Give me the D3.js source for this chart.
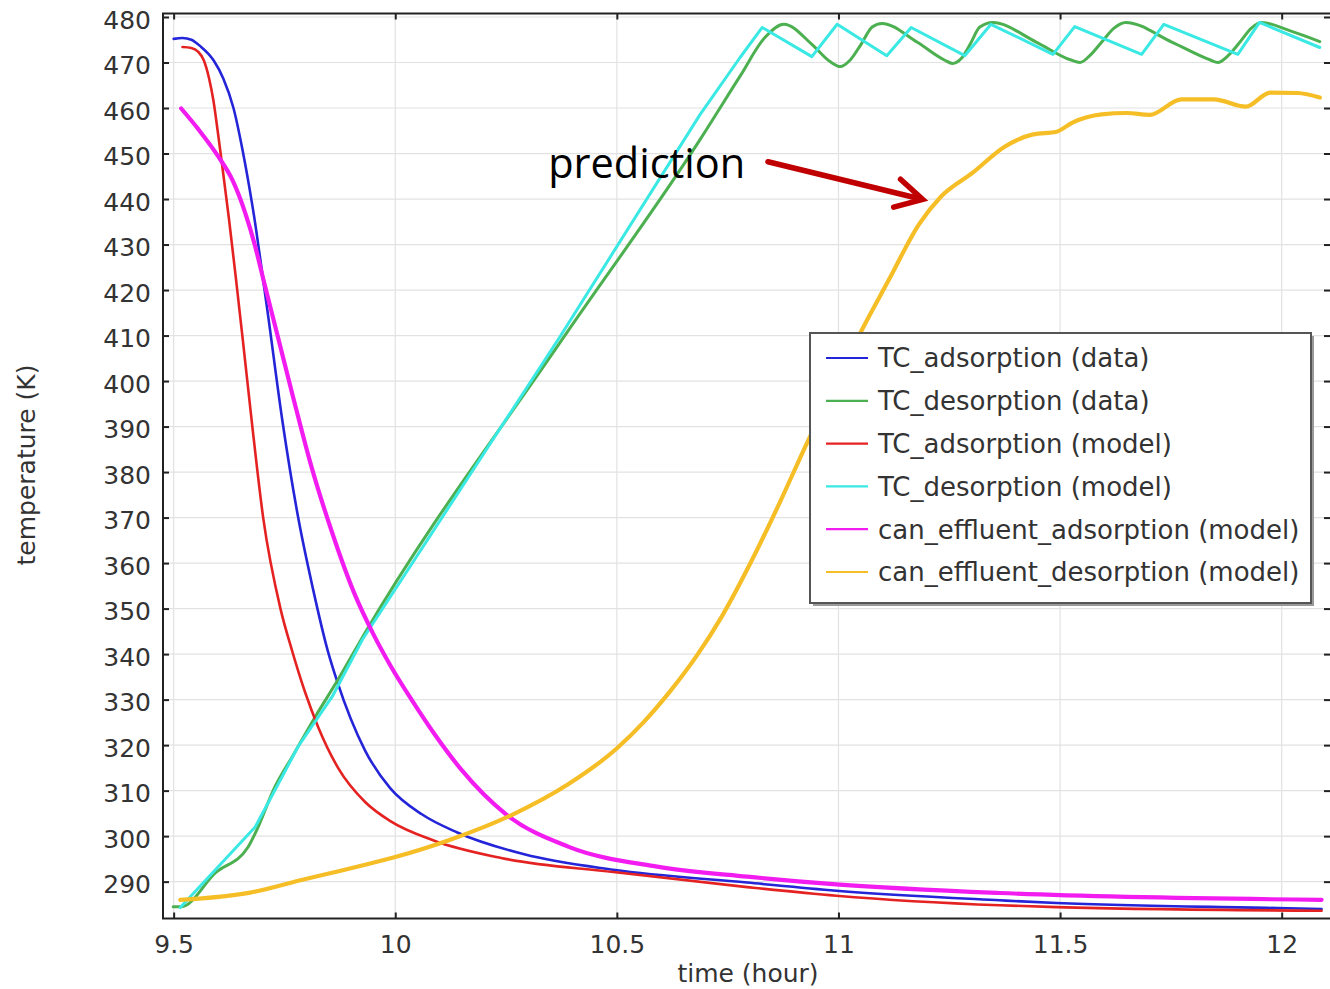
<!DOCTYPE html>
<html><head><meta charset="utf-8">
<script src="https://cdn.jsdelivr.net/npm/d3@7"></script>
<style>body{margin:0;background:#fff}svg{display:block}</style>
</head><body>
<svg id="chart" width="1330" height="989"></svg>
<script>
// ---------------- data ----------------
const xTicks = [9.5, 10, 10.5, 11, 11.5, 12];
const xTickLabels = ["9.5", "10", "10.5", "11", "11.5", "12"];
const yTicks = [290, 300, 310, 320, 330, 340, 350, 360, 370, 380, 390, 400, 410, 420, 430, 440, 450, 460, 470, 480];

const seriesNames = ["TC_adsorption (data)", "TC_desorption (data)", "TC_adsorption (model)",
  "TC_desorption (model)", "can_effluent_adsorption (model)", "can_effluent_desorption (model)"];
const seriesColors = ["#2424d8", "#4cb050", "#e52222", "#3ae8e4", "#f21cf0", "#f6be26"];

const tcAdsorptionData = [[9.500,475.2],[9.520,475.4],[9.540,475.0],[9.560,473.6],[9.590,470.5],[9.612,466.5],[9.635,460.0],[9.655,451.0],[9.670,443.0],[9.685,434.0],[9.698,425.0],[9.713,414.5],[9.745,391.5],[9.781,370.0],[9.814,354.5],[9.847,341.0],[9.869,334.0],[9.932,318.8],[9.989,310.5],[10.060,304.8],[10.140,300.8],[10.291,296.0],[10.492,292.6],[10.794,289.8],[10.995,288.0],[11.364,285.9],[11.492,285.3],[11.990,284.2],[12.090,284.0]];

const tcDesorptionData = [[9.499,284.5],[9.517,284.5],[9.594,291.9],[9.668,297.6],[9.684,300.6],[9.729,310.9],[9.768,317.5],[9.820,326.3],[9.871,334.4],[9.932,344.7],[10.372,408.5],[10.688,453.1],[10.778,467.0],[10.834,475.5],[10.877,478.4],[10.940,474.0],[10.981,470.2],[11.004,469.1],[11.026,470.5],[11.051,474.0],[11.076,477.8],[11.098,478.6],[11.177,474.5],[11.240,470.5],[11.257,469.8],[11.278,471.0],[11.297,474.0],[11.319,477.8],[11.348,478.8],[11.446,474.5],[11.523,470.6],[11.545,470.0],[11.567,471.5],[11.594,474.5],[11.621,477.5],[11.648,478.8],[11.752,474.5],[11.838,470.6],[11.856,470.0],[11.879,471.5],[11.906,474.5],[11.931,477.5],[11.955,478.8],[12.018,477.0],[12.086,474.6]];

const tcAdsorptionModel = [[9.520,473.4],[9.540,473.2],[9.555,472.4],[9.568,470.5],[9.580,466.5],[9.590,461.5],[9.600,454.5],[9.612,445.5],[9.625,435.5],[9.640,423.0],[9.655,410.0],[9.677,390.5],[9.702,370.0],[9.741,350.0],[9.768,340.5],[9.797,331.5],[9.826,324.0],[9.871,315.0],[9.932,307.5],[9.989,303.3],[10.088,299.0],[10.239,295.2],[10.492,292.1],[10.794,288.8],[10.995,286.9],[11.364,284.8],[11.492,284.4],[12.090,283.6]];

const tcDesorptionModel = [[9.515,284.3],[9.684,302.0],[9.729,310.2],[9.781,319.7],[9.858,330.7],[9.926,343.2],[10.372,409.8],[10.688,458.6],[10.778,471.1],[10.828,477.7],[10.940,471.3],[10.997,478.4],[11.109,471.5],[11.164,477.7],[11.285,471.5],[11.344,478.4],[11.484,471.8],[11.533,477.9],[11.684,471.8],[11.734,478.4],[11.901,471.8],[11.950,478.8],[12.086,473.3]];

const canAdsorptionModel = [[9.517,459.9],[9.556,455.3],[9.601,449.3],[9.632,444.3],[9.662,436.8],[9.684,429.6],[9.702,422.5],[9.734,410.2],[9.770,396.3],[9.808,382.2],[9.860,366.0],[9.907,353.5],[9.950,344.5],[9.989,337.5],[10.040,329.5],[10.088,322.5],[10.150,314.5],[10.250,304.8],[10.390,297.7],[10.591,293.3],[10.794,291.1],[10.995,289.4],[11.364,287.5],[12.090,286.0]];

const canDesorptionModel = [[9.515,286.0],[9.673,287.6],[9.786,290.3],[9.860,292.0],[9.932,293.7],[10.000,295.4],[10.124,299.2],[10.266,304.8],[10.390,311.4],[10.499,319.2],[10.560,325.0],[10.620,331.8],[10.680,339.6],[10.737,348.3],[10.804,360.5],[10.868,373.4],[10.927,386.0],[10.988,398.5],[11.051,410.9],[11.114,422.3],[11.182,434.5],[11.231,440.5],[11.303,445.8],[11.375,451.5],[11.439,454.2],[11.492,454.8],[11.528,456.8],[11.594,458.6],[11.650,458.9],[11.702,458.5],[11.774,461.9],[11.847,461.9],[11.919,460.3],[11.974,463.4],[12.036,463.3],[12.086,462.3]];

const annotationText = "prediction";
const annotationArrow = [[10.841,448.2],[11.19,439.9]]; // from, to (data coords)
const annotationTextPos = [10.345,444.7];

// ---------------- chart ----------------
const svg = d3.select("#chart");
const L = 163, R = 1330, T = 13.5, B = 918.5;
const x = d3.scaleLinear().domain([9.476, 12.109]).range([L, R]);
const y = d3.scaleLinear().domain([281.9, 480.77]).range([B, T]);
const FONT = "'DejaVu Sans', Verdana, sans-serif";

svg.append("rect").attr("width",1330).attr("height",989).attr("fill","#fff");

// grid
const grid = svg.append("g").attr("stroke","#e2e2e2").attr("stroke-width",1.2);
grid.selectAll(".gx").data(xTicks).join("line")
  .attr("x1",d=>x(d)).attr("x2",d=>x(d)).attr("y1",T).attr("y2",B);
grid.selectAll(".gy").data(yTicks).join("line")
  .attr("x1",L).attr("x2",R).attr("y1",d=>y(d)).attr("y2",d=>y(d));

// clip
svg.append("clipPath").attr("id","clip").append("rect")
  .attr("x",L).attr("y",T).attr("width",R-L).attr("height",B-T);

const series = [
  {data: tcAdsorptionData, w: 2.6, curve: d3.curveMonotoneX},
  {data: tcDesorptionData, w: 3.0, curve: d3.curveMonotoneX},
  {data: tcAdsorptionModel, w: 2.6, curve: d3.curveMonotoneX},
  {data: tcDesorptionModel, w: 3.0, curve: d3.curveLinear},
  {data: canAdsorptionModel, w: 4.2, curve: d3.curveMonotoneX},
  {data: canDesorptionModel, w: 4.2, curve: d3.curveMonotoneX}
];
const lines = svg.append("g").attr("clip-path","url(#clip)");
series.forEach((s,i)=>{
  const gen = d3.line().x(d=>x(d[0])).y(d=>y(d[1])).curve(s.curve);
  lines.append("path").attr("d",gen(s.data)).attr("fill","none")
    .attr("stroke",seriesColors[i]).attr("stroke-width",s.w)
    .attr("stroke-linejoin","round").attr("stroke-linecap","round");
});

// axes
function styleAxis(g){
  g.select(".domain").remove();
  g.selectAll(".tick line").attr("stroke","#222").attr("stroke-width",2);
  g.selectAll(".tick text").attr("fill","#333").attr("font-family",FONT).attr("font-size",25);
}
svg.append("g").attr("transform",`translate(0,${B})`)
  .call(d3.axisBottom(x).tickValues(xTicks).tickFormat((d,i)=>xTickLabels[i]).tickSizeInner(-6).tickSizeOuter(0).tickPadding(17))
  .call(styleAxis);
svg.append("g").attr("transform",`translate(0,${T})`)
  .call(d3.axisTop(x).tickValues(xTicks).tickFormat("").tickSizeInner(-6).tickSizeOuter(0))
  .call(styleAxis);
svg.append("g").attr("transform",`translate(${L},0)`)
  .call(d3.axisLeft(y).tickValues(yTicks).tickSizeInner(-6).tickSizeOuter(0).tickPadding(12))
  .call(styleAxis)
  .selectAll(".tick text").attr("dy","0.45em");
svg.append("g").attr("transform",`translate(${R},0)`)
  .call(d3.axisRight(y).tickValues(yTicks).tickFormat("").tickSizeInner(-6).tickSizeOuter(0))
  .call(styleAxis);

// frame
svg.append("path").attr("d",`M${R},${T}H${L}V${B}H${R}`).attr("fill","none")
  .attr("stroke","#222").attr("stroke-width",2);

// axis titles
svg.append("text").attr("x",748).attr("y",982).attr("text-anchor","middle")
  .attr("font-family",FONT).attr("font-size",25).attr("fill","#333").text("time (hour)");
svg.append("text").attr("transform","translate(35,465) rotate(-90)").attr("text-anchor","middle")
  .attr("font-family",FONT).attr("font-size",25).attr("fill","#333").text("temperature (K)");

// legend
const lg = svg.append("g");
lg.append("rect").attr("x",813).attr("y",336).attr("width",501).attr("height",270).attr("fill","#9a9a9a");
lg.append("rect").attr("x",810).attr("y",333).attr("width",501).attr("height",270)
  .attr("fill","#fff").attr("stroke","#555").attr("stroke-width",2);
seriesNames.forEach((n,i)=>{
  const yy = 358 + i*42.8;
  lg.append("line").attr("x1",826).attr("x2",868).attr("y1",yy).attr("y2",yy)
    .attr("stroke",seriesColors[i]).attr("stroke-width",2.2);
  lg.append("text").attr("x",878).attr("y",yy).attr("dy","0.36em")
    .attr("font-family",FONT).attr("font-size",26).attr("fill","#333").text(n);
});

// annotation
svg.append("text").attr("x",x(annotationTextPos[0])).attr("y",y(annotationTextPos[1]))
  .attr("font-family","'Open Sans', 'Noto Sans', sans-serif").attr("font-size",41.5).attr("fill","#000")
  .text(annotationText);
const ax0 = x(annotationArrow[0][0]), ay0 = y(annotationArrow[0][1]);
const ax1 = x(annotationArrow[1][0]), ay1 = y(annotationArrow[1][1]);
const ang = Math.atan2(ay1-ay0, ax1-ax0);
const hl = 30, ha = 0.5;
const arrow = svg.append("g").attr("stroke","#c00000").attr("fill","none")
  .attr("stroke-width",5.5).attr("stroke-linecap","round").attr("stroke-linejoin","miter");
arrow.append("line").attr("x1",ax0).attr("y1",ay0).attr("x2",ax1-3*Math.cos(ang)).attr("y2",ay1-3*Math.sin(ang));
arrow.append("path").attr("d",
  `M${ax1-hl*Math.cos(ang-ha)},${ay1-hl*Math.sin(ang-ha)}L${ax1},${ay1}L${ax1-hl*Math.cos(ang+ha)},${ay1-hl*Math.sin(ang+ha)}`);
</script>
</body></html>
